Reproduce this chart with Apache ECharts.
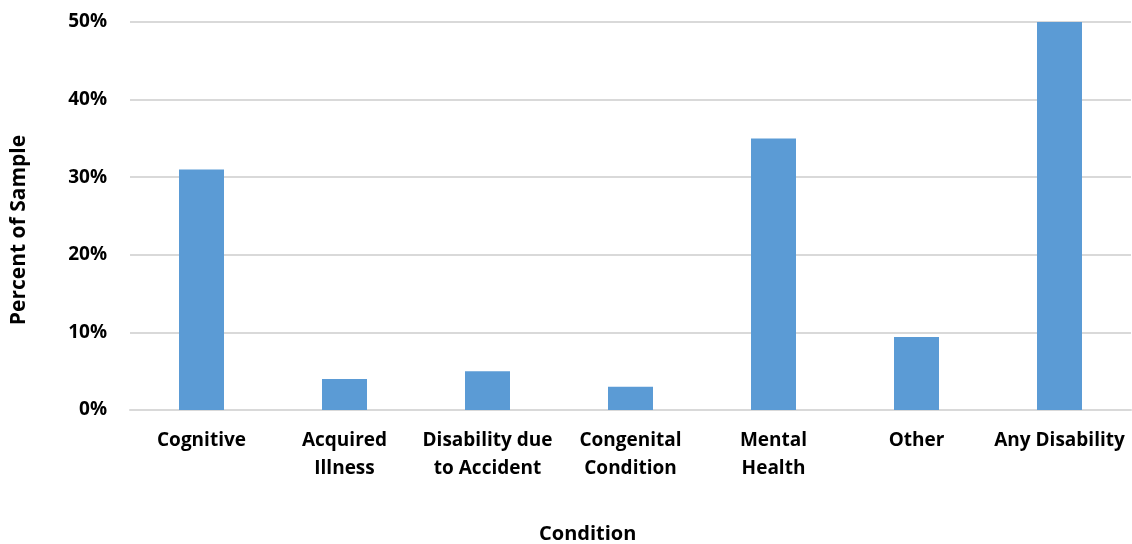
<!DOCTYPE html>
<html>
<head>
<meta charset="utf-8">
<script src="https://cdn.jsdelivr.net/npm/echarts@6/dist/echarts.min.js"></script>
<style>
  html, body { margin: 0; padding: 0; background: #fff; }
  #chart { width: 1132px; height: 544px; }
</style>
</head>
<body>
<div id="chart"></div>
<script>
var categories = ["Cognitive", "Acquired\nIllness", "Disability due\nto Accident", "Congenital\nCondition", "Mental\nHealth", "Other", "Any Disability"];
var percentValues = [31, 4, 5, 3, 35, 9.4, 50];
var fontFamily = "'Open Sans', 'Noto Sans', sans-serif";

var myChart = echarts.init(document.getElementById("chart"));
var option = {
  animation: false,
  backgroundColor: "#fff",
  grid: { left: 130, right: 1, top: 22, bottom: 134, containLabel: false, outerBoundsMode: "none" },
  xAxis: {
    type: "category",
    data: categories,
    axisLine: { lineStyle: { color: "#d9d9d9", width: 2 } },
    axisTick: { show: false },
    axisLabel: {
      interval: 0,
      margin: 17,
      color: "#000",
      fontFamily: fontFamily,
      fontWeight: "bold",
      fontSize: 19,
      lineHeight: 28
    }
  },
  yAxis: {
    type: "value",
    min: 0,
    max: 50,
    interval: 10,
    axisLine: { show: false },
    axisTick: { show: false },
    axisLabel: {
      margin: 23,
      color: "#000",
      fontFamily: fontFamily,
      fontWeight: "bold",
      fontSize: 19,
      formatter: "{value}%"
    },
    splitLine: { lineStyle: { color: "#d9d9d9", width: 2 } }
  },
  graphic: [
    {
      type: "text",
      x: 19,
      y: 230,
      rotation: Math.PI / 2,
      style: {
        text: "Percent of Sample",
        fill: "#000",
        font: "bold 21px " + fontFamily,
        textAlign: "center",
        textVerticalAlign: "middle"
      }
    },
    {
      type: "text",
      left: 539,
      top: 524,
      style: { text: "Condition", fill: "#000", font: "bold 20px " + fontFamily }
    }
  ],
  series: [
    {
      type: "bar",
      data: percentValues,
      barWidth: 45,
      itemStyle: { color: "#5b9bd5" }
    }
  ]
};
option && myChart.setOption(option);
</script>
</body>
</html>
